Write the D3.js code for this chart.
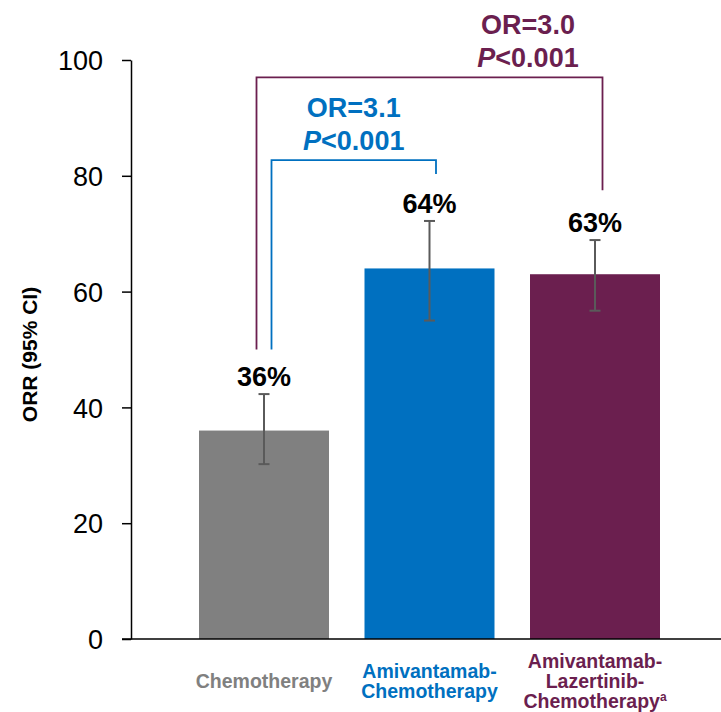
<!DOCTYPE html>
<html>
<head>
<meta charset="utf-8">
<script src="https://cdn.jsdelivr.net/npm/d3@7"></script>
<style>
  html, body { margin: 0; padding: 0; background: #fff; }
  svg text { font-family: "Liberation Sans", Arial, sans-serif; }
</style>
</head>
<body>
<svg id="chart" width="721" height="712"></svg>
<script>
// Objective response rate by treatment arm
const categories = ["Chemotherapy", "Amivantamab-Chemotherapy", "Amivantamab-Lazertinib-Chemotherapy"];
const labelLines = [["Chemotherapy"], ["Amivantamab-", "Chemotherapy"], ["Amivantamab-", "Lazertinib-", "Chemotherapy"]];
const orr = [36, 64, 63];
const ciLow = [30.2, 55.0, 56.7];
const ciHigh = [42.3, 72.2, 68.9];
const barColors = ["#808080", "#0070C0", "#6B1F4F"];
const yTicks = [0, 20, 40, 60, 80, 100];
// Pairwise comparisons: [from category, to category, odds ratio, p-value text]
const comparisons = [
  { from: 0, to: 1, or: "3.1", p: "<0.001", color: "#0070C0" },
  { from: 0, to: 2, or: "3.0", p: "<0.001", color: "#6B1F4F" }
];

const svg = d3.select("#chart");
const axisX = 131;

const y = d3.scaleLinear().domain([0, 100]).range([639, 60]);
const x = d3.scaleBand()
  .domain(categories)
  .range([181.25, 677.75])
  .paddingInner(0.2145)
  .paddingOuter(0.10725);

// Bars
svg.append("g").selectAll("rect")
  .data(categories)
  .join("rect")
  .attr("x", d => x(d))
  .attr("width", x.bandwidth())
  .attr("y", (d, i) => y(orr[i]))
  .attr("height", (d, i) => y(0) - y(orr[i]))
  .attr("fill", (d, i) => barColors[i]);

// Error bars (95% CI)
const err = svg.append("g").attr("stroke", "#5a5a5a").attr("stroke-width", 2);
categories.forEach((c, i) => {
  const cx = x(c) + x.bandwidth() / 2;
  err.append("line").attr("x1", cx).attr("x2", cx).attr("y1", y(ciLow[i])).attr("y2", y(ciHigh[i]));
  [ciLow[i], ciHigh[i]].forEach(v => {
    err.append("line").attr("x1", cx - 5.5).attr("x2", cx + 5.5).attr("y1", y(v)).attr("y2", y(v));
  });
});

// Value labels
svg.append("g").selectAll("text")
  .data(categories)
  .join("text")
  .attr("x", d => x(d) + x.bandwidth() / 2)
  .attr("y", (d, i) => y(ciHigh[i]) - 8)
  .attr("text-anchor", "middle")
  .attr("font-size", 27)
  .attr("font-weight", "bold")
  .attr("fill", "#000")
  .text((d, i) => orr[i] + "%");

// Y axis
const yAxis = svg.append("g")
  .attr("transform", `translate(${axisX},0)`)
  .call(d3.axisLeft(y).tickValues(yTicks).tickSize(9).tickPadding(19).tickSizeOuter(0));
yAxis.select(".domain").attr("stroke", "#000").attr("stroke-width", 1.5);
yAxis.selectAll(".tick line").attr("stroke", "#000").attr("stroke-width", 1.5);
yAxis.selectAll(".tick text")
  .attr("font-size", 27)
  .attr("font-family", "'Liberation Sans', Arial, sans-serif")
  .attr("fill", "#000")
  .attr("dy", "0.36em");

// Baseline across the plot
svg.append("line")
  .attr("x1", axisX - 9).attr("x2", 721)
  .attr("y1", y(0)).attr("y2", y(0))
  .attr("stroke", "#000").attr("stroke-width", 1.5);

// Y axis title
svg.append("text")
  .attr("transform", `translate(37,${(y(0) + y(100)) / 2 + 5}) rotate(-90)`)
  .attr("text-anchor", "middle")
  .attr("font-size", 21)
  .attr("font-weight", "bold")
  .attr("fill", "#000")
  .text("ORR (95% CI)");

// Category labels, centred vertically under each bar
const lineH = 20;
categories.forEach((c, i) => {
  const lines = labelLines[i];
  const cx = x(c) + x.bandwidth() / 2;
  const firstBaseline = 688 - (lines.length - 1) * lineH / 2;
  lines.forEach((ln, k) => {
    const t = svg.append("text")
      .attr("x", cx)
      .attr("y", firstBaseline + k * lineH)
      .attr("text-anchor", "middle")
      .attr("font-size", 19.5)
      .attr("font-weight", "bold")
      .attr("fill", barColors[i]);
    t.append("tspan").text(ln);
    if (i === 2 && k === lines.length - 1) {
      t.append("tspan").attr("font-size", 12).attr("dy", -7).text("a");
    }
  });
});

// Comparison brackets with odds ratio and p-value
const bracketSpec = [
  { top: 82.7, leftEnd: 50, rightEnd: 80.3, dl: 7.5, dr: 6.5, textX: null },
  { top: 97, leftEnd: 50, rightEnd: 77.5, dl: -7.5, dr: 7.5, textX: 528 }
];
comparisons.forEach((cmp, j) => {
  const s = bracketSpec[j];
  const x1 = x(categories[cmp.from]) + x.bandwidth() / 2 + s.dl;
  const x2 = x(categories[cmp.to]) + x.bandwidth() / 2 + s.dr;
  const path = d3.path();
  path.moveTo(x1, y(s.leftEnd));
  path.lineTo(x1, y(s.top));
  path.lineTo(x2, y(s.top));
  path.lineTo(x2, y(s.rightEnd));
  svg.append("path")
    .attr("d", path.toString())
    .attr("fill", "none")
    .attr("stroke", cmp.color)
    .attr("stroke-width", 1.8);
  const tx = s.textX != null ? s.textX : (x1 + x2) / 2;
  const pBase = y(s.top) - 10;
  svg.append("text")
    .attr("x", tx).attr("y", pBase - 33)
    .attr("text-anchor", "middle")
    .attr("font-size", 27).attr("font-weight", "bold")
    .attr("fill", cmp.color)
    .text("OR=" + cmp.or);
  const pt = svg.append("text")
    .attr("x", tx).attr("y", pBase)
    .attr("text-anchor", "middle")
    .attr("font-size", 27).attr("font-weight", "bold")
    .attr("fill", cmp.color);
  pt.append("tspan").attr("font-style", "italic").text("P");
  pt.append("tspan").text(cmp.p);
});
</script>
</body>
</html>
